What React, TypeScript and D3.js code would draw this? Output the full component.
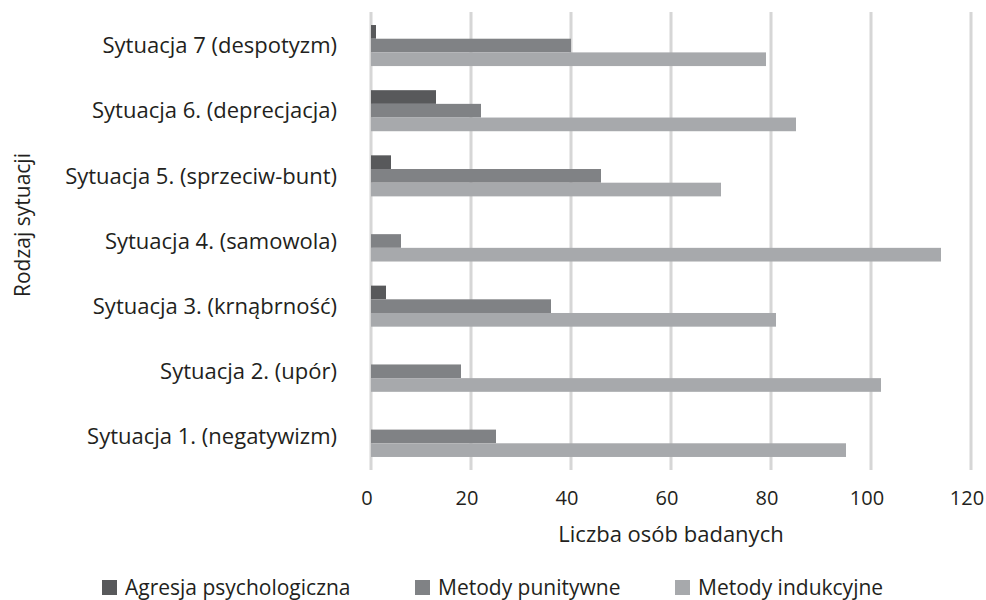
import { useRef, useEffect } from 'react';
import * as d3 from 'd3';

const categories = [
  'Sytuacja 1. (negatywizm)',
  'Sytuacja 2. (upór)',
  'Sytuacja 3. (krnąbrność)',
  'Sytuacja 4. (samowola)',
  'Sytuacja 5. (sprzeciw-bunt)',
  'Sytuacja 6. (deprecjacja)',
  'Sytuacja 7 (despotyzm)',
];
const seriesNames = ['Agresja psychologiczna', 'Metody punitywne', 'Metody indukcyjne'];
const agresja = [0, 0, 3, 0, 4, 13, 1];
const punitywne = [25, 18, 36, 6, 46, 22, 40];
const indukcyjne = [95, 102, 81, 114, 70, 85, 79];
const xTicks = [0, 20, 40, 60, 80, 100, 120];
const colors = ['#58595b', '#808285', '#a7a9ac'];

export default function App() {
  const svgRef = useRef<SVGSVGElement>(null);

  useEffect(() => {
    document.body.style.margin = '0';
    const width = 986;
    const height = 600;
    const font = '"Open Sans", sans-serif';
    const fs = 22;
    const svg = d3.select(svgRef.current);
    svg.selectAll('*').remove();
    svg.attr('width', width).attr('height', height);

    const x = d3.scaleLinear().domain([0, 120]).range([371, 971]);
    const top = 12, bottom = 470;

    const y0 = d3.scaleBand()
      .domain([...categories].reverse())
      .range([top, bottom])
      .paddingInner(0.37)
      .paddingOuter(0.2);

    const y1 = d3.scaleBand()
      .domain(seriesNames)
      .range([0, y0.bandwidth()]);

    // grid
    svg.selectAll('line.grid')
      .data(xTicks)
      .join('line')
      .attr('class', 'grid')
      .attr('x1', d => x(d)).attr('x2', d => x(d))
      .attr('y1', top).attr('y2', bottom)
      .attr('stroke', '#d6d6d6')
      .attr('stroke-width', 3);

    const values = [agresja, punitywne, indukcyjne];
    const rows = categories.flatMap((c, i) =>
      seriesNames.map((s, k) => ({ c, s, k, v: values[k][i] })));

    svg.selectAll('rect.bar')
      .data(rows.filter(d => d.v > 0))
      .join('rect')
      .attr('class', 'bar')
      .attr('x', x(0))
      .attr('y', d => y0(d.c)! + y1(d.s)!)
      .attr('width', d => x(d.v) - x(0))
      .attr('height', y1.bandwidth())
      .attr('fill', d => colors[d.k]);

    // category labels
    svg.selectAll('text.cat')
      .data(categories)
      .join('text')
      .attr('class', 'cat')
      .attr('x', 337)
      .attr('y', d => y0(d)! + y0.bandwidth() / 2)
      .attr('dy', '0.35em')
      .attr('text-anchor', 'end')
      .attr('font-family', font)
      .attr('font-size', fs)
      .attr('fill', '#231f20')
      .text(d => d);

    // x tick labels
    svg.selectAll('text.tick')
      .data(xTicks)
      .join('text')
      .attr('class', 'tick')
      .attr('x', d => x(d) - 4)
      .attr('y', 505)
      .attr('text-anchor', 'middle')
      .attr('font-family', font)
      .attr('font-size', 20)
      .attr('fill', '#231f20')
      .text(d => d);

    svg.append('text')
      .attr('x', x(60))
      .attr('y', 542)
      .attr('text-anchor', 'middle')
      .attr('font-family', font)
      .attr('font-size', fs)
      .attr('fill', '#231f20')
      .text('Liczba osób badanych');

    svg.append('text')
      .attr('transform', 'translate(30,225) rotate(-90)')
      .attr('text-anchor', 'middle')
      .attr('font-family', font)
      .attr('font-size', 21)
      .attr('fill', '#231f20')
      .text('Rodzaj sytuacji');

    // legend
    const legendX = [102, 415, 675];
    const lg = svg.selectAll('g.legend')
      .data(seriesNames)
      .join('g')
      .attr('class', 'legend')
      .attr('transform', (d, i) => `translate(${legendX[i]},580)`);
    lg.append('rect')
      .attr('width', 15).attr('height', 15)
      .attr('fill', (d, i) => colors[i]);
    lg.append('text')
      .attr('x', 23)
      .attr('y', 7.5)
      .attr('dy', '0.35em')
      .attr('font-family', font)
      .attr('font-size', 21)
      .attr('fill', '#231f20')
      .text(d => d);
  }, []);

  return <svg ref={svgRef} style={{ display: 'block' }} />;
}
